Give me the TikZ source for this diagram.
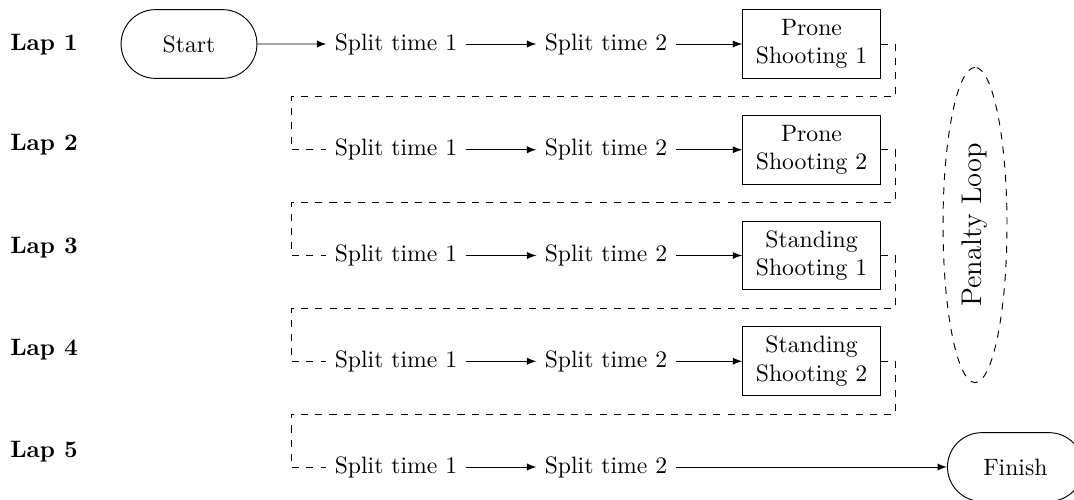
\documentclass[tikz,border=0pt]{standalone}
\usetikzlibrary{shapes.misc,shapes.geometric,arrows.meta}
\begin{document}
\begin{tikzpicture}[x=0.422pt,y=-0.422pt,
  lap/.style={font=\bfseries},
  split/.style={inner sep=3.33pt},
  shoot/.style={draw, align=center, minimum width=58pt, minimum height=29pt, inner sep=2pt},
  term/.style={draw, rounded rectangle, minimum width=64pt, minimum height=29pt},
  flow/.style={-latex},
  loopline/.style={dashed}]
\useasboundingbox (0,0) rectangle (1074,499);

% lap labels
\node[lap] (lap1) at (44,45) {Lap 1};
\node[lap] (lap2) at (44,145) {Lap 2};
\node[lap] (lap3) at (44,248) {Lap 3};
\node[lap] (lap4) at (44,350) {Lap 4};
\node[lap] (lap5) at (44,452) {Lap 5};

% row 1
\node[term] (start) at (189,44) {Start};
\node[split] (a1) at (396,44) {Split time 1};
\node[split] (b1) at (606,44) {Split time 2};
\node[shoot] (p1) at (811.5,44) {Prone\\Shooting 1};
% row 2
\node[split] (a2) at (396,149.75) {Split time 1};
\node[split] (b2) at (606,149.75) {Split time 2};
\node[shoot] (p2) at (811.5,149.75) {Prone\\Shooting 2};
% row 3
\node[split] (a3) at (396,255.5) {Split time 1};
\node[split] (b3) at (606,255.5) {Split time 2};
\node[shoot] (p3) at (811.5,255.5) {Standing\\Shooting 1};
% row 4
\node[split] (a4) at (396,361.25) {Split time 1};
\node[split] (b4) at (606,361.25) {Split time 2};
\node[shoot] (p4) at (811.5,361.25) {Standing\\Shooting 2};
% row 5
\node[split] (a5) at (396,467) {Split time 1};
\node[split] (b5) at (606,467) {Split time 2};
\node[term, anchor=west] (finish) at (947,467) {Finish};

% penalty loop
\node[draw, dashed, ellipse, rotate=90, minimum width=133pt, minimum height=27pt, inner sep=0pt] (penalty) at (975,225) {\large Penalty Loop};

% turn points
\coordinate (r1) at (895,96.9);  \coordinate (l1) at (291,96.9);
\coordinate (r2) at (895,202.6); \coordinate (l2) at (291,202.6);
\coordinate (r3) at (895,308.4); \coordinate (l3) at (291,308.4);
\coordinate (r4) at (895,414.1); \coordinate (l4) at (291,414.1);

% flow arrows
\draw[flow] (start) -- (a1);
\foreach \i in {1,2,3,4} {
  \draw[flow] (a\i) -- (b\i);
  \draw[flow] (b\i) -- (p\i);
}
\draw[flow] (a5) -- (b5);
\draw[flow] (b5) -- (finish);

% dashed lap transitions
\draw[loopline] (p1.east) -| (r1) -- (l1) |- (a2.west);
\draw[loopline] (p2.east) -| (r2) -- (l2) |- (a3.west);
\draw[loopline] (p3.east) -| (r3) -- (l3) |- (a4.west);
\draw[loopline] (p4.east) -| (r4) -- (l4) |- (a5.west);
\end{tikzpicture}
\end{document}
